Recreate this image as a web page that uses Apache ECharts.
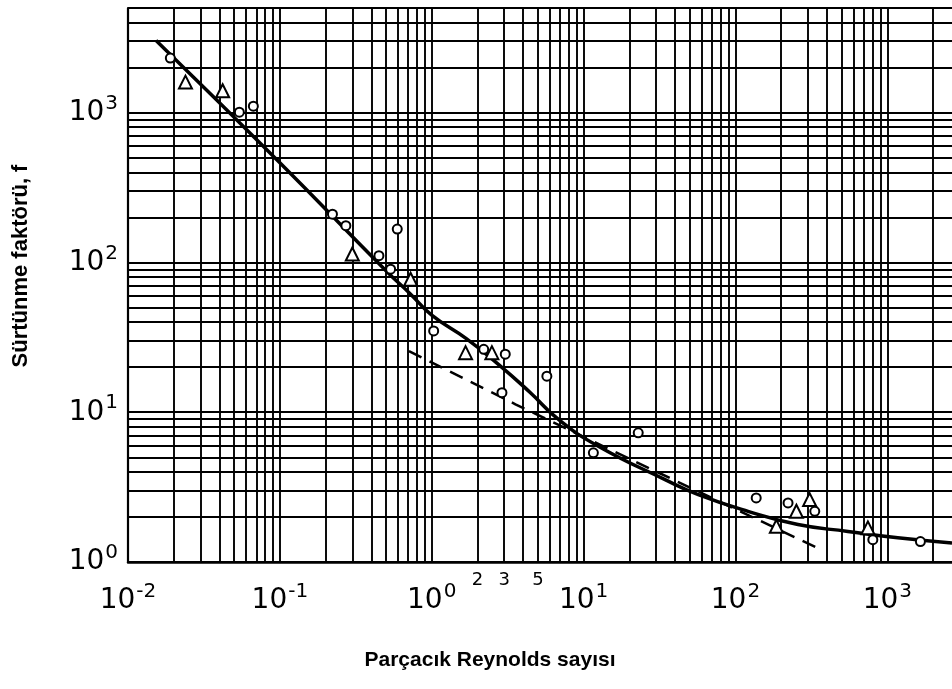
<!DOCTYPE html>
<html>
<head>
<meta charset="utf-8">
<style>html,body{margin:0;padding:0;background:#fff;}#c{width:952px;height:689px;}</style>
<script src="https://cdn.jsdelivr.net/npm/echarts@6/dist/echarts.min.js"></script>
</head>
<body>
<div id="c"></div>
<script>
// ---- axis ranges ----
const xRange = [0.01, 2667];
const yRange = [1, 5000];
// ---- grid (log paper) ----
const gridMultipliers = [1, 2, 3, 4, 5, 6, 7, 8, 9];
const xDecades = [0.01, 0.1, 1, 10, 100, 1000];
const yDecades = [1, 10, 100, 1000];
// ---- extra minor tick labels near 10^0 ----
const minorLabelValues = [2, 3, 5];
const minorLabels = ['2', '3', '5'];
// ---- solid correlation curve (Re, f) ----
const curveRe = [0.0153, 0.1, 0.5, 0.726, 1.0, 1.69, 2.76, 4.43, 6.84, 12.5, 34.4, 56.9, 121, 258, 550, 1172, 2667];
const curveF  = [3035, 463, 88, 61.4, 44.5, 31, 20.8, 13.6, 8.95, 5.93, 3.55, 2.82, 2.18, 1.78, 1.60, 1.45, 1.34];
// ---- dashed line (Re, f) ----
const dashRe = [0.708, 3.56, 26.7, 366];
const dashF  = [25.6, 11.3, 4.25, 1.21];
// ---- circle data points ----
const circRe = [0.0190, 0.0541, 0.0669, 0.222, 0.272, 0.593, 0.449, 0.536, 1.03, 2.20, 3.05, 2.90, 5.73, 22.9, 11.6, 137, 222, 333, 803, 1652];
const circF  = [2316, 1008, 1105, 210, 176, 167, 111, 90.2, 34.9, 26.3, 24.4, 13.5, 17.4, 7.29, 5.36, 2.68, 2.48, 2.18, 1.41, 1.37];
// ---- triangle data points ----
const triRe = [0.0239, 0.0420, 0.300, 0.726, 1.67, 2.49, 252, 308, 186, 745];
const triF  = [1600, 1400, 114, 77.3, 25.0, 25.0, 2.18, 2.61, 1.73, 1.69];

const zip = (a, b) => a.map((v, i) => [v, b[i]]);
const xGrid = [], yGrid = [];
xDecades.forEach(d => gridMultipliers.forEach(m => { const v = +(d * m).toPrecision(3); if (v >= xRange[0] && v <= xRange[1]) xGrid.push(v); }));
yDecades.forEach(d => gridMultipliers.forEach(m => { const v = +(d * m).toPrecision(3); if (v >= yRange[0] && v <= yRange[1]) yGrid.push(v); }));

function powLabel(v) {
  const e = Math.log10(v);
  const r = Math.round(e);
  if (Math.abs(e - r) > 1e-6) return '';
  return '{b|10}{e|' + r + '}';
}
const labelRich = {
  b: { fontSize: 28, fontFamily: 'DejaVu Sans', color: '#000' },
  e: { fontSize: 20, fontFamily: 'DejaVu Sans', color: '#000', padding: [0, 0, 18, 1] }
};

const gridLine = { color: '#000', width: 1.9, type: 'solid' };
const chart = echarts.init(document.getElementById('c'), null, { renderer: 'canvas' });
chart.setOption({
  animation: false,
  backgroundColor: '#fff',
  grid: { left: 128, right: 0, top: 8, bottom: 127 },
  xAxis: {
    type: 'log', logBase: 10, min: xRange[0], max: xRange[1],
    name: 'Parçacık Reynolds sayısı', nameLocation: 'middle', nameGap: 88,
    nameTextStyle: { fontFamily: 'Liberation Sans', fontWeight: 'bold', fontSize: 21, color: '#000', padding: [0, 100, 0, 0] },
    axisLine: { show: true, lineStyle: { color: '#000', width: 2.5 } },
    axisTick: { show: false }, splitLine: { show: false }, minorTick: { show: false },
    axisLabel: { formatter: powLabel, rich: labelRich, margin: 20, showMaxLabel: false }
  },
  yAxis: {
    type: 'log', logBase: 10, min: yRange[0], max: yRange[1],
    name: 'Sürtünme faktörü, f', nameLocation: 'middle', nameGap: 96,
    nameTextStyle: { fontFamily: 'Liberation Sans', fontWeight: 'bold', fontSize: 22, color: '#000', padding: [0, 0, 0, 38] },
    axisLine: { show: true, lineStyle: { color: '#000', width: 2.2 } },
    axisTick: { show: false }, splitLine: { show: false },
    axisLabel: { formatter: powLabel, rich: labelRich, margin: 10, showMaxLabel: false }
  },
  series: [
    {
      type: 'line', data: [], silent: true,
      markLine: {
        silent: true, symbol: 'none', animation: false, label: { show: false },
        lineStyle: gridLine,
        data: xGrid.map(v => ({ xAxis: v })).concat(yGrid.map(v => ({ yAxis: v })))
      }
    },
    {
      type: 'scatter', symbolSize: 0, silent: true,
      data: minorLabelValues.map((v, i) => ({ value: [v, yRange[0]], name: minorLabels[i] })),
      label: { show: true, position: 'bottom', distance: 9, formatter: p => p.name,
        fontSize: 18, fontFamily: 'DejaVu Sans', color: '#000', opacity: 1 },
      itemStyle: { opacity: 1 }
    },
    {
      type: 'line', data: zip(curveRe, curveF), smooth: 0.5, symbol: 'none',
      lineStyle: { color: '#000', width: 3.5 }, z: 5
    },
    {
      type: 'line', data: zip(dashRe, dashF), smooth: false, symbol: 'none',
      lineStyle: { color: '#000', width: 2.5, type: [14, 9] }, z: 5
    },
    {
      type: 'scatter', data: zip(circRe, circF), symbol: 'circle', symbolSize: 9,
      itemStyle: { color: '#fff', borderColor: '#000', borderWidth: 2, opacity: 1 }, z: 6
    },
    {
      type: 'scatter', data: zip(triRe, triF), symbol: 'triangle', symbolSize: 13,
      itemStyle: { color: '#fff', borderColor: '#000', borderWidth: 2, opacity: 1 }, z: 6
    }
  ]
});
</script>
</body>
</html>
